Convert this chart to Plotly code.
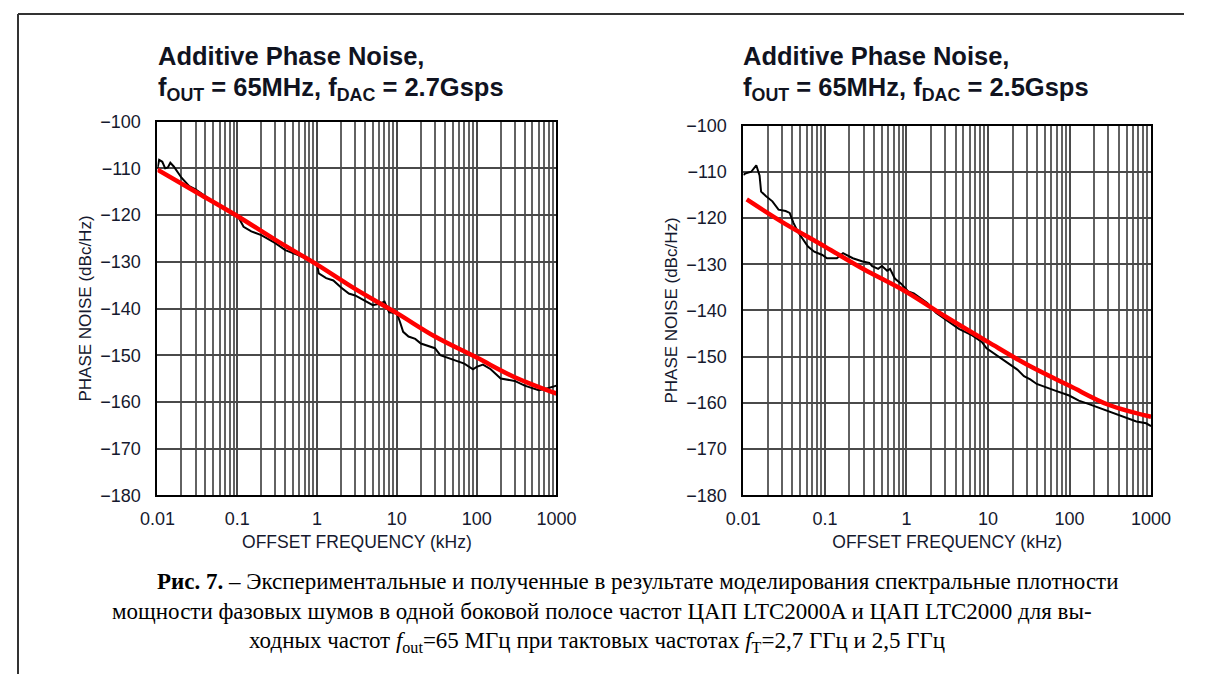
import plotly.graph_objects as go

# ---- data: left panel (fDAC = 2.7 Gsps) ----
meas_27_f = [0.0100, 0.0105, 0.0115, 0.0125, 0.0135, 0.0145, 0.016, 0.018, 0.020, 0.025, 0.03, 0.04,
             0.05, 0.07, 0.1, 0.12, 0.15, 0.2, 0.3, 0.4, 0.6, 0.8, 1.0, 1.05, 1.3, 1.6, 2.0, 2.5, 3.0,
             4.0, 5.0, 6.0, 7.0, 8.0, 10, 11, 12, 14, 17, 20, 30, 35, 50, 70, 90, 100, 120, 150, 200,
             300, 400, 500, 600, 800, 1000]
meas_27_db = [-110.0, -108.2, -108.6, -110.0, -109.8, -108.8, -109.6, -110.8, -112.0, -113.8, -114.5, -116.0,
              -117.2, -118.6, -120.0, -122.5, -123.5, -124.3, -126.0, -127.5, -128.7, -129.5, -130.5, -132.5,
              -133.5, -134.0, -135.5, -136.8, -137.2, -138.3, -139.3, -139.0, -138.5, -140.8, -141.0, -143.0,
              -145.0, -146.0, -146.5, -147.5, -148.5, -150.0, -151.0, -151.8, -153.0, -152.5, -152.0, -153.0,
              -155.0, -155.5, -156.5, -157.0, -157.5, -157.0, -156.5]
model_27_f = [0.01, 0.03, 0.1, 0.3, 1, 3, 10, 30, 100, 300, 1000]
model_27_db = [-110.3, -115.0, -120.2, -125.3, -130.6, -135.8, -141.0, -146.0, -150.5, -154.7, -158.2]

# ---- data: right panel (fDAC = 2.5 Gsps) ----
meas_25_f = [0.0100, 0.0105, 0.0125, 0.0137, 0.0144, 0.0158, 0.0165, 0.019, 0.0227, 0.027, 0.033, 0.037,
             0.041, 0.047, 0.056, 0.062, 0.074, 0.093, 0.106, 0.14, 0.167, 0.22, 0.29, 0.35, 0.38, 0.45,
             0.5, 0.58, 0.63, 0.72, 0.86, 1.05, 1.23, 1.5, 1.8, 2.3, 3.4, 4.4, 6.4, 8.4, 9.6, 11, 15.8,
             19, 22.9, 27.6, 33, 39.6, 51.6, 68, 99, 130, 170, 246, 353, 508, 660, 870, 1000]
meas_25_db = [-110.7, -110.4, -110.0, -109.0, -108.6, -110.8, -114.3, -115.3, -116.4, -118.2, -118.5, -118.9,
              -121.0, -123.1, -124.9, -126.2, -127.3, -128.0, -128.7, -128.7, -127.6, -128.7, -129.4, -129.7,
              -130.4, -131.0, -130.4, -131.4, -131.0, -133.1, -134.2, -135.9, -136.3, -137.4, -138.4, -140.5,
              -142.6, -144.0, -145.4, -146.8, -148.2, -148.9, -150.7, -151.7, -152.8, -154.2, -154.9, -155.9,
              -156.7, -157.4, -158.4, -159.5, -160.2, -161.2, -162.3, -163.3, -164.0, -164.4, -165.0]
model_25_f = [0.011, 0.03, 0.1, 0.3, 1, 3, 10, 30, 100, 300, 1000]
model_25_db = [-116.0, -120.9, -126.2, -131.1, -136.0, -141.3, -146.8, -151.7, -156.3, -160.4, -163.0]

# ---- axis ticks ----
x_tickvals = [0.01, 0.1, 1, 10, 100, 1000]
x_ticktext = ["0.01", "0.1", "1", "10", "100", "1000"]
x_minor = [m * d for d in [0.01, 0.1, 1, 10, 100] for m in range(2, 10)]
y_tickvals = [-100, -110, -120, -130, -140, -150, -160, -170, -180]
y_ticktext = ["\u2212100", "\u2212110", "\u2212120", "\u2212130", "\u2212140", "\u2212150",
              "\u2212160", "\u2212170", "\u2212180"]

titles = ["2.7Gsps", "2.5Gsps"]

SANS = "Liberation Sans, Arial, sans-serif"
TXT = "#15192e"

# the page body keeps an 8px margin, so the figure is sized to fit the window inside it
OFF = 8
W, H = 1220 - 2 * OFF, 700 - 2 * OFF


def px(x):
    return (x - OFF) / W


def py(y):
    return 1 - (y - OFF) / H


fig = go.Figure()
fig.add_trace(go.Scatter(x=meas_27_f, y=meas_27_db, mode="lines", line=dict(color="black", width=2),
                         xaxis="x", yaxis="y", showlegend=False))
fig.add_trace(go.Scatter(x=model_27_f, y=model_27_db, mode="lines", line=dict(color="#ff0000", width=4.5, shape="spline"),
                         xaxis="x", yaxis="y", showlegend=False))
fig.add_trace(go.Scatter(x=meas_25_f, y=meas_25_db, mode="lines", line=dict(color="black", width=2),
                         xaxis="x2", yaxis="y2", showlegend=False))
fig.add_trace(go.Scatter(x=model_25_f, y=model_25_db, mode="lines", line=dict(color="#ff0000", width=4.5, shape="spline"),
                         xaxis="x2", yaxis="y2", showlegend=False))


def xax(domain, anchor):
    return dict(type="log", range=[-2, 3], domain=domain, anchor=anchor,
                tickmode="array", tickvals=x_tickvals, ticktext=x_ticktext,
                ticks="outside", ticklen=6, tickcolor="rgba(0,0,0,0)",
                tickfont=dict(family=SANS, size=18, color=TXT),
                showgrid=True, gridcolor="#4a4a4a", gridwidth=1.8,
                minor=dict(tickmode="array", tickvals=x_minor, showgrid=True,
                           gridcolor="#626262", gridwidth=1.5, ticks=""),
                showline=True, linecolor="black", linewidth=2, mirror=True, zeroline=False,
                title=dict(text="OFFSET FREQUENCY (kHz)", font=dict(family=SANS, size=17.5, color=TXT), standoff=8))


def yax(domain, anchor):
    return dict(range=[-180, -100], domain=domain, anchor=anchor,
                tickmode="array", tickvals=y_tickvals, ticktext=y_ticktext,
                ticks="outside", ticklen=11, tickcolor="rgba(0,0,0,0)",
                tickfont=dict(family=SANS, size=18, color=TXT),
                showgrid=True, gridcolor="#4a4a4a", gridwidth=1.8,
                showline=True, linecolor="black", linewidth=2, mirror=True, zeroline=False,
                title=dict(text="PHASE NOISE (dBc/Hz)", font=dict(family=SANS, size=17, color=TXT), standoff=4))


fig.update_layout(
    width=W, height=H, margin=dict(l=0, r=0, t=0, b=0),
    paper_bgcolor="white", plot_bgcolor="white",
    xaxis=xax([px(152), px(564)], "y"),
    yaxis=yax([py(508), py(123)], "x"),
    xaxis2=xax([px(757), px(1178)], "y2"),
    yaxis2=yax([py(508), py(127)], "x2"),
)

# panel titles
for x0, ttl in [(150, titles[0]), (755, titles[1])]:
    fig.add_annotation(xref="paper", yref="paper", x=px(x0), y=py(55), xanchor="left", yanchor="middle",
                       text="<b>Additive Phase Noise,</b>", showarrow=False,
                       font=dict(family=SANS, size=25.5, color="#10131f"))
    fig.add_annotation(xref="paper", yref="paper", x=px(x0), y=py(89), xanchor="left", yanchor="middle",
                       text="<b>f<sub>OUT</sub> = 65MHz, f<sub>DAC</sub> = " + ttl + "</b>", showarrow=False,
                       font=dict(family=SANS, size=25.5, color="#10131f"))

# caption
SERIF = "Liberation Serif, Times New Roman, serif"
cap = [
    "<b>Рис. 7.</b> – Экспериментальные и полученные в результате моделирования спектральные плотности",
    "мощности фазовых шумов в одной боковой полосе частот ЦАП LTC2000A и ЦАП LTC2000 для вы-",
    "ходных частот <i>f</i><sub>out</sub>=65 МГц при тактовых частотах <i>f</i><sub>T</sub>=2,7 ГГц и 2,5 ГГц",
]
cap_x = [648, 611, 606]
for i, line in enumerate(cap):
    fig.add_annotation(xref="paper", yref="paper", x=px(cap_x[i]), y=py(597 + 31 * i),
                       xanchor="center", yanchor="middle", text=line, showarrow=False,
                       font=dict(family=SERIF, size=23, color="black"))

# outer frame (left and top edges)
fig.add_shape(type="line", xref="paper", yref="paper", x0=px(8), x1=px(8), y0=0, y1=py(12),
              line=dict(color="#333333", width=2))
fig.add_shape(type="line", xref="paper", yref="paper", x0=px(8), x1=1, y0=py(12), y1=py(12),
              line=dict(color="#333333", width=2))

fig.write_html("out.html")
